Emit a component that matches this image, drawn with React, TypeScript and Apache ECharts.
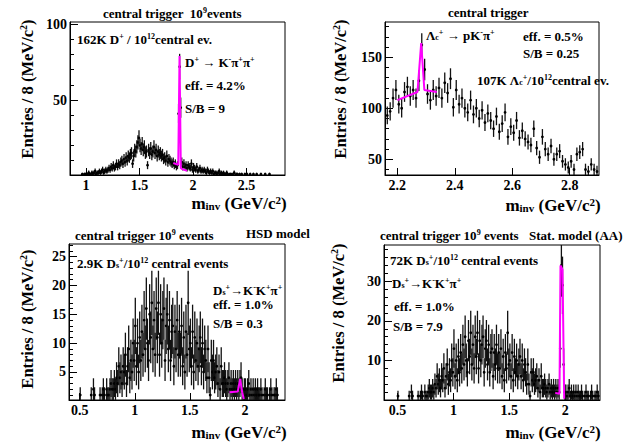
import React, { useEffect, useRef } from 'react';
import * as echarts from 'echarts';

const FONT = 'Liberation Serif, serif';
const MAGENTA = '#ff00ff';

// ---------- Panel 1 : D+ -> K- pi+ pi+ ----------
const P1_BIN_START = 0.955;
const P1_BIN_WIDTH = 0.01;
const P1_COUNTS = [
  0, 1, 0, 1, 1, 0, 1, 2, 1, 1,
  2, 1, 2, 3, 1, 2, 2, 3, 2, 3,
  4, 2, 3, 4, 3, 4, 5, 4, 6, 5,
  7, 5, 6, 8, 6, 8, 7, 9, 10, 8,
  11, 9, 12, 10, 13, 12, 14, 15, 8, 13,
  17, 16, 19, 22, 25, 20, 18, 21, 17, 19,
  15, 16, 7, 17, 15, 18, 14, 16, 19, 15,
  17, 13, 16, 14, 15, 13, 14, 11, 12, 10,
  13, 9, 11, 10, 9, 8, 9, 7, 8, 6,
  7, 41, 72, 45, 9, 6, 8, 6, 7, 5,
  7, 6, 5, 8, 4, 6, 5, 4, 6, 3,
  4, 5, 3, 4, 3, 4, 3, 2, 4, 3,
  2, 3, 2, 3, 1, 2, 2, 1, 2, 3,
  1, 2, 1, 2, 1, 1, 2, 1, 0, 1,
  1, 0, 1, 2, 0, 1, 1, 0, 1, 0,
  1, 0, 0, 1, 0, 1, 0, 0, 1, 0,
  0, 1, 0, 0, 1, 0, 0, 0, 1, 0,
  0, 0, 1, 0, 0, 0, 1, 0, 0, 0,
];
const P1_FIT = [[1.816, 8.4], [1.862, 7.2], [1.874, 79], [1.886, 5], [1.9, 4.4], [1.944, 3.2]];
const P1_X_RANGE = [0.85, 2.86];
const P1_Y_RANGE = [0.5, 101.5];
const P1_X_TICKS = [1, 1.5, 2, 2.5];
const P1_Y_TICKS = [50, 100];
const P1_Y_MINOR = [10, 20, 30, 40, 60, 70, 80, 90];
const P1_ERR_SCALE = 1.0;

// ---------- Panel 2 : Lambda_c ----------
const P2_BIN_START = 2.165;
const P2_BIN_WIDTH = 0.01;
const P2_COUNTS = [
  93, 97, 110, 118, 104, 100, 116, 121, 112, 118,
  110, 127, 162, 138, 114, 108, 118, 112, 120, 110,
  125, 115, 129, 101, 118, 104, 110, 100, 96, 108,
  94, 100, 90, 98, 86, 95, 88, 80, 92, 77,
  85, 96, 72, 82, 76, 88, 71, 78, 70, 67,
  64, 80, 61, 52, 72, 60, 55, 63, 50, 55,
  58, 48, 45, 42, 48, 40, 55, 57, 60, 40,
  38, 45, 40, 38,
];
const P2_FIT = [[2.2, 108], [2.27, 116], [2.283, 164], [2.294, 118], [2.337, 116]];
const P2_X_RANGE = [2.157, 2.902];
const P2_Y_RANGE = [34.6, 184.6];
const P2_X_TICKS = [2.2, 2.4, 2.6, 2.8];
const P2_Y_TICKS = [50, 100, 150];
const P2_Y_MINOR = [40, 60, 70, 80, 90, 110, 120, 130, 140, 160, 170, 180];
const P2_ERR_SCALE = 0.9;

// ---------- Panels 3 & 4 : Ds+ -> K- K+ pi+ ----------
const DS_BIN_START = 0.505;
const DS_BIN_WIDTH = 0.01;
const DS_BACKGROUND_COUNTS = [
  1, 0, 0, 0, 0, 0, 0, 0, 0, 0,
  1, 0, 2, 1, 0, 0, 0, 0, 1, 0,
  1, 2, 1, 0, 2, 1, 1, 2, 3, 2,
  2, 3, 2, 4, 3, 6, 4, 5, 3, 6,
  5, 8, 3, 6, 9, 4, 7, 5, 10, 7,
  13, 6, 10, 5, 11, 7, 12, 8, 14, 9,
  16, 10, 7, 15, 11, 17, 9, 14, 8, 16,
  11, 17, 8, 15, 10, 14, 16, 7, 13, 15,
  9, 14, 7, 12, 13, 6, 12, 9, 14, 8,
  12, 8, 13, 6, 11, 5, 12, 8, 17, 9,
  10, 6, 12, 5, 11, 7, 10, 6, 9, 11,
  6, 10, 5, 9, 7, 4, 9, 4, 1, 7,
  5, 7, 4, 5, 6, 3, 5, 2, 6, 3,
  3, 4, 3, 2, 3, 4, 2, 3, 2, 3,
  2, 3, 2, 3, 2, 3, 4, 2, 1, 2,
  2, 1, 2, 3, 1, 2, 1, 2, 1, 2,
  1, 2, 1, 1, 2, 1, 0, 1, 2, 1,
  1, 0, 1, 2, 1, 0, 1, 1, 2, 1,
];
const P4_PEAK_BINS = [1.955, 1.965, 1.975, 1.985];
const P4_PEAK_COUNTS = [13, 34, 29, 9];

const P3_FIT = [[1.86, 1.5], [1.935, 1.6], [1.957, 3.8], [1.975, 1.5], [1.99, 0.3]];
const P3_X_RANGE = [0.403, 2.364];
const P3_Y_RANGE = [0.14, 27.2];
const P3_X_TICKS = [0.5, 1, 1.5, 2];
const P3_Y_TICKS = [5, 10, 15, 20, 25];
const P3_Y_MINOR = [1, 2, 3, 4, 6, 7, 8, 9, 11, 12, 13, 14, 16, 17, 18, 19, 21, 22, 23, 24, 26, 27];

const P4_FIT = [[1.91, 1.8], [1.948, 1.6], [1.957, 34], [1.975, 33], [1.99, 0.3]];
const P4_X_RANGE = [0.38, 2.31];
const P4_Y_RANGE = [0, 39.2];
const P4_X_TICKS = [0.5, 1, 1.5, 2];
const P4_Y_TICKS = [10, 20, 30];
const P4_Y_MINOR = [2, 4, 6, 8, 12, 14, 16, 18, 22, 24, 26, 28, 32, 34, 36, 38];
const DS_ERR_SCALE = 1.35;

// ---------- helpers ----------
function toPoints(start: number, width: number, counts: number[]) {
  const out: number[][] = [];
  counts.forEach((c, i) => {
    if (c > 0) out.push([+(start + i * width).toFixed(4), c]);
  });
  return out;
}

function p4Counts() {
  const c = DS_BACKGROUND_COUNTS.slice();
  P4_PEAK_BINS.forEach((b, k) => {
    const i = Math.round((b - DS_BIN_START) / DS_BIN_WIDTH);
    c[i] = P4_PEAK_COUNTS[k];
  });
  return c;
}

const GRIDS = [
  { left: 70, top: 22, width: 215, height: 153 },
  { left: 385, top: 22, width: 214, height: 153 },
  { left: 69, top: 244, width: 216, height: 156 },
  { left: 384, top: 245, width: 216, height: 155 },
];

const RICH = (size: number) => ({
  sup: { fontSize: Math.round(size * 0.62), fontWeight: 'bold', fontFamily: FONT, fill: '#000', color: '#000', verticalAlign: 'top' },
  sub: { fontSize: Math.round(size * 0.62), fontWeight: 'bold', fontFamily: FONT, fill: '#000', color: '#000', verticalAlign: 'bottom' },
});

function txt(x: number, y: number, text: string, size = 13, extra: any = {}) {
  return {
    type: 'text',
    x,
    y,
    silent: true,
    ...extra,
    style: {
      text,
      fontFamily: FONT,
      fontWeight: 'bold',
      fontSize: size,
      fill: '#000',
      textAlign: extra.align || 'left',
      align: extra.align || 'left',
      textVerticalAlign: 'middle',
      verticalAlign: 'middle',
      rich: RICH(size),
    },
  };
}

function errSeries(idx: number, pts: number[][], scale: number) {
  return {
    type: 'custom',
    xAxisIndex: idx,
    yAxisIndex: idx * 2,
    data: pts,
    clip: true,
    silent: true,
    renderItem: (_p: any, api: any) => {
      const x = api.value(0);
      const y = api.value(1);
      const e = scale * Math.sqrt(y);
      const c = api.coord([x, y]);
      const lo = api.coord([x, y - e]);
      const hi = api.coord([x, y + e]);
      return {
        type: 'group',
        children: [
          { type: 'line', shape: { x1: c[0], y1: lo[1], x2: c[0], y2: hi[1] }, style: { stroke: '#111', lineWidth: 1.3 } },
          { type: 'circle', shape: { cx: c[0], cy: c[1], r: 1.4 }, style: { fill: '#000' } },
        ],
      };
    },
  };
}

function fitSeries(idx: number, pts: number[][]) {
  return {
    type: 'line',
    xAxisIndex: idx,
    yAxisIndex: idx * 2,
    data: pts,
    symbol: 'none',
    silent: true,
    lineStyle: { color: MAGENTA, width: 2 },
    z: 5,
  };
}

function xAxis(idx: number, range: number[], ticks: number[]) {
  return {
    type: 'value',
    gridIndex: idx,
    min: range[0],
    max: range[1],
    axisLine: { show: true, lineStyle: { color: '#000', width: 1 } },
    axisTick: { show: true, inside: true, length: 7, customValues: ticks, lineStyle: { color: '#000' } },
    axisLabel: {
      customValues: ticks,
      fontFamily: FONT,
      fontWeight: 'bold',
      fontSize: 14,
      color: '#000',
      margin: 3,
    },
    splitLine: { show: false },
  };
}

function yAxes(idx: number, range: number[], ticks: number[], minor: number[]) {
  return [
    {
      type: 'value',
      gridIndex: idx,
      position: 'left',
      min: range[0],
      max: range[1],
      axisLine: { show: true, lineStyle: { color: '#000', width: 1 } },
      axisTick: { show: true, inside: true, length: 8, customValues: ticks, lineStyle: { color: '#000' } },
      axisLabel: {
        customValues: ticks,
        fontFamily: FONT,
        fontWeight: 'bold',
        fontSize: 14,
        color: '#000',
        margin: 3,
      },
      splitLine: { show: false },
    },
    {
      type: 'value',
      gridIndex: idx,
      position: 'left',
      offset: 0,
      min: range[0],
      max: range[1],
      axisLine: { show: false },
      axisTick: { show: true, inside: true, length: 4, customValues: minor, lineStyle: { color: '#000' } },
      axisLabel: { show: false },
      splitLine: { show: false },
    },
  ];
}

const YLABEL = 'Entries / 8 (MeV/c{sup|2})';
const XLABEL = 'm{sub|inv} (GeV/c{sup|2})';

export default function App() {
  const ref = useRef<HTMLDivElement>(null);
  useEffect(() => {
    if (!ref.current) return;
    const chart = echarts.init(ref.current, undefined, { renderer: 'svg' });

    const p1 = toPoints(P1_BIN_START, P1_BIN_WIDTH, P1_COUNTS);
    const p2 = toPoints(P2_BIN_START, P2_BIN_WIDTH, P2_COUNTS);
    const p3 = toPoints(DS_BIN_START, DS_BIN_WIDTH, DS_BACKGROUND_COUNTS);
    const p4 = toPoints(DS_BIN_START, DS_BIN_WIDTH, p4Counts());

    const graphic: any[] = [
      // panel 1
      txt(103, 13, 'central trigger  10{sup|9}events', 13),
      txt(77, 39, '162K D{sup|+} / 10{sup|12}central ev.', 13),
      txt(185, 62, 'D{sup|+} → K{sup|-}π{sup|+}π{sup|+}', 13),
      txt(185, 85, 'eff. = 4.2%', 13),
      txt(185, 108, 'S/B = 9', 13),
      txt(27, 89, YLABEL, 16.5, { rotation: Math.PI / 2, align: 'center' }),
      txt(239, 203, XLABEL, 17, { align: 'center' }),
      // panel 2
      txt(448, 12, 'central trigger', 13),
      txt(426, 35, 'Λ{sub|c}{sup|+} → pK{sup|-}π{sup|+}', 13),
      txt(523, 36, 'eff. = 0.5%', 13),
      txt(523, 53, 'S/B = 0.25', 13),
      txt(477, 80, '107K Λ{sub|c}{sup|+}/10{sup|12}central ev.', 13),
      txt(340, 89, YLABEL, 16.5, { rotation: Math.PI / 2, align: 'center' }),
      txt(553, 205, XLABEL, 17, { align: 'center' }),
      // panel 3
      txt(75, 235, 'central trigger 10{sup|9} events', 13),
      txt(246, 233, 'HSD model', 13),
      txt(77, 263, '2.9K D{sub|s}{sup|+}/10{sup|12} central events', 13),
      txt(213, 290, 'D{sub|s}{sup|+}→K{sup|-}K{sup|+}π{sup|+}', 13),
      txt(213, 304, 'eff. = 1.0%', 13),
      txt(213, 323, 'S/B = 0.3', 13),
      txt(27, 319, YLABEL, 16.5, { rotation: Math.PI / 2, align: 'center' }),
      txt(239, 432, XLABEL, 17, { align: 'center' }),
      // panel 4
      txt(380, 235, 'central trigger 10{sup|9} events', 13),
      txt(529, 235, 'Stat. model (AA)', 13),
      txt(390, 260, '72K D{sub|s}{sup|+}/10{sup|12} central events', 13),
      txt(392, 283, 'D{sub|s}{sup|+}→K{sup|-}K{sup|+}π{sup|+}', 13),
      txt(394, 306, 'eff. = 1.0%', 13),
      txt(393, 326, 'S/B = 7.9', 13),
      txt(338, 313, YLABEL, 16.5, { rotation: Math.PI / 2, align: 'center' }),
      txt(553, 432, XLABEL, 17, { align: 'center' }),
    ];

    chart.setOption({
      animation: false,
      backgroundColor: '#fff',
      textStyle: { fontFamily: FONT },
      grid: GRIDS.map((g) => ({ ...g, show: true, borderColor: '#000', borderWidth: 1, backgroundColor: 'transparent' })),
      xAxis: [
        xAxis(0, P1_X_RANGE, P1_X_TICKS),
        xAxis(1, P2_X_RANGE, P2_X_TICKS),
        xAxis(2, P3_X_RANGE, P3_X_TICKS),
        xAxis(3, P4_X_RANGE, P4_X_TICKS),
      ],
      yAxis: [
        ...yAxes(0, P1_Y_RANGE, P1_Y_TICKS, P1_Y_MINOR),
        ...yAxes(1, P2_Y_RANGE, P2_Y_TICKS, P2_Y_MINOR),
        ...yAxes(2, P3_Y_RANGE, P3_Y_TICKS, P3_Y_MINOR),
        ...yAxes(3, P4_Y_RANGE, P4_Y_TICKS, P4_Y_MINOR),
      ],
      series: [
        errSeries(0, p1, P1_ERR_SCALE),
        fitSeries(0, P1_FIT),
        errSeries(1, p2, P2_ERR_SCALE),
        fitSeries(1, P2_FIT),
        errSeries(2, p3, DS_ERR_SCALE),
        fitSeries(2, P3_FIT),
        errSeries(3, p4, DS_ERR_SCALE),
        fitSeries(3, P4_FIT),
      ],
      graphic,
    });
    return () => chart.dispose();
  }, []);
  return (
    <div
      ref={ref}
      style={{ position: 'absolute', left: 0, top: 0, width: 640, height: 443, background: '#fff' }}
    />
  );
}
